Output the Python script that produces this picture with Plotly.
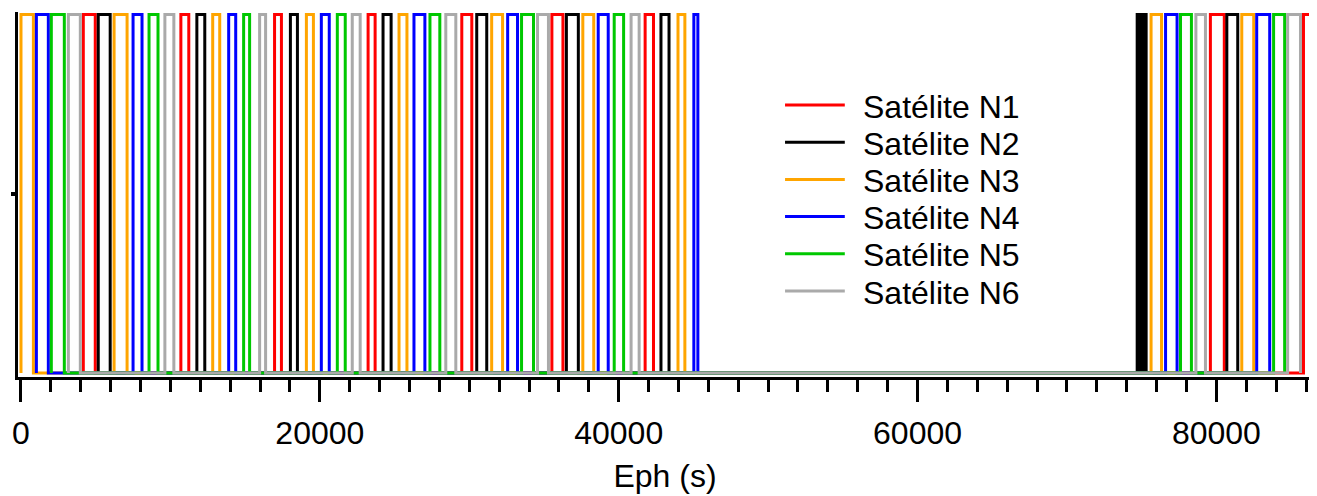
import plotly.graph_objects as go

# ---------------- data (seconds) ----------------
names = ["Satélite N1", "Satélite N2", "Satélite N3", "Satélite N4", "Satélite N5", "Satélite N6"]
colors = ["#FF0000", "#000000", "#FFA500", "#0000FF", "#00C800", "#AAAAAA"]

DAY_END = 86400

n1_rise = [4170, 10700, 16970, 23230, 29500, 35530, 41770, 79600, 85830]
n1_set = [4970, 11230, 17430, 23700, 30170, 36270, 42330, 80530, 86400]

n2_rise = [5170, 11770, 18030, 24230, 30500, 36500, 42830, 74700, 74950, 75200, 80700]
n2_set = [5970, 12300, 18500, 24770, 31170, 37300, 43370, 74850, 75100, 75300, 81430]

n3_rise = [0, 6230, 12830, 19100, 25300, 31500, 37600, 43970, 75630, 81700]
n3_set = [830, 7100, 13300, 19570, 25830, 32230, 38330, 44430, 76330, 82500]

n4_rise = [1030, 7500, 13900, 20100, 26300, 32570, 38630, 45030, 76600, 82700]
n4_set = [1830, 8100, 14370, 20630, 27030, 33230, 39300, 45300, 77370, 83570]

n5_rise = [2030, 8570, 14900, 21170, 27370, 33500, 39700, 77600, 83830]
n5_set = [2900, 9170, 15300, 21700, 28030, 34300, 40330, 78330, 84570]

n6_rise = [3170, 9630, 15970, 22170, 28430, 34570, 40830, 78630, 84770]
n6_set = [3970, 10230, 16370, 22700, 29100, 35300, 41370, 79270, 85630]

rises = [n1_rise, n2_rise, n3_rise, n4_rise, n5_rise, n6_rise]
sets = [n1_set, n2_set, n3_set, n4_set, n5_set, n6_set]

x_tickvals = [0, 20000, 40000, 60000, 80000]
x_ticktext = ["0", "20000", "40000", "60000", "80000"]


def step_xy(rise, setv):
    xs, ys = [], []
    for i, (a, b) in enumerate(zip(rise, setv)):
        if i == 0:
            xs.append(a)
            ys.append(0)
        xs.append(a)
        ys.append(1)
        xs.append(b)
        ys.append(1 if b >= DAY_END else 0)
    return xs, ys


FONT = "Liberation Sans, Arial, sans-serif"
fig = go.Figure()
for name, col, r, s in zip(names, colors, rises, sets):
    xs, ys = step_xy(r, s)
    fig.add_trace(go.Scatter(x=xs, y=ys, mode="lines", name=name,
                             line=dict(color=col, width=3, shape="hv"),
                             showlegend=False))

# ---------------- layout ----------------
W, H = 1317, 496
OFF = 8  # page body margin
ML, MR, MT, MB = 5, 13, 4, 127
plot_w = W - ML - MR
plot_h = H - MT - MB

# custom legend (screen pixel layout constants)
leg_line_x0, leg_line_x1, leg_text_x = 783, 843, 859
leg_y0, leg_dy = 105.0, 37.2
shapes, annos = [], []
for i, (name, col) in enumerate(zip(names, colors)):
    ypix = leg_y0 + i * leg_dy - OFF
    yp = (H - MB - ypix) / plot_h
    shapes.append(dict(type="line", xref="paper", yref="paper",
                       x0=(leg_line_x0 - OFF - ML) / plot_w, x1=(leg_line_x1 - OFF - ML) / plot_w,
                       y0=yp, y1=yp, line=dict(color=col, width=3)))
    annos.append(dict(xref="paper", yref="paper", x=(leg_text_x - OFF - ML) / plot_w, y=yp - 1.5 / plot_h,
                      xanchor="left", yanchor="middle", text=name, showarrow=False,
                      font=dict(family=FONT, size=32, color="black")))

fig.update_layout(
    width=W, height=H, autosize=False,
    margin=dict(l=ML, r=MR, t=MT, b=MB, pad=0),
    plot_bgcolor="white", paper_bgcolor="white",
    font=dict(family=FONT, size=32, color="black"),
    shapes=shapes, annotations=annos,
    xaxis=dict(range=[-200, DAY_END], showgrid=False, zeroline=False,
               showline=True, linecolor="black", linewidth=3,
               tickmode="array", tickvals=x_tickvals, ticktext=x_ticktext,
               ticks="outside", ticklen=22, tickwidth=3, tickcolor="black",
               ticklabelstandoff=4,
               tickfont=dict(family=FONT, size=32, color="black"),
               minor=dict(dtick=2000, tick0=0, ticks="outside", ticklen=12,
                          tickwidth=3, tickcolor="black", showgrid=False),
               title=dict(text="Eph (s)", font=dict(family=FONT, size=32, color="black"),
                          standoff=15)),
    yaxis=dict(range=[-0.01116, 1.00697], showgrid=False, zeroline=False,
               showline=True, linecolor="black", linewidth=3,
               tickmode="array", tickvals=[0.5], ticktext=[""],
               ticks="outside", ticklen=4, tickwidth=4, tickcolor="black"),
)

fig.write_html("out.html")
